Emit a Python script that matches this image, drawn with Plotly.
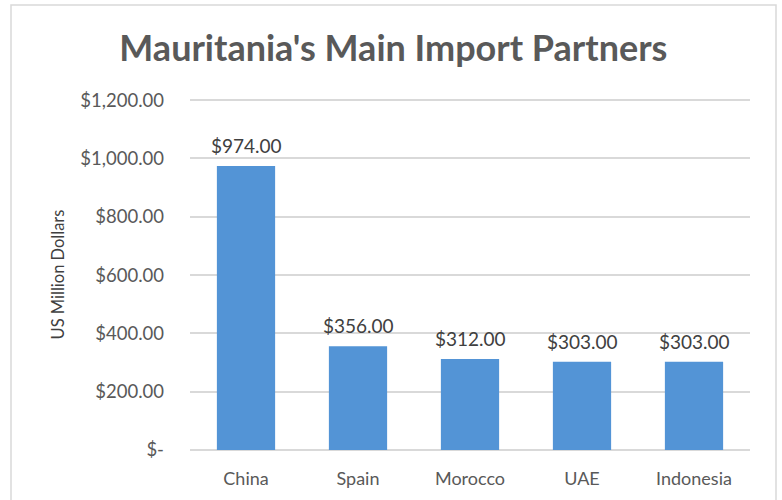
import plotly.graph_objects as go

countries = ["China", "Spain", "Morocco", "UAE", "Indonesia"]
imports = [974, 356, 312, 303, 303]
tick_vals = [0, 200, 400, 600, 800, 1000, 1200]
tick_text = ["$-", "$200.00", "$400.00", "$600.00", "$800.00", "$1,000.00", "$1,200.00"]

W, H = 782, 500
L, R, T, B = 190, 32, 99, 50
pw, ph = W - L - R, H - T - B
FONT = "Lato, Open Sans, sans-serif"

fig = go.Figure(go.Bar(
    x=countries, y=imports,
    marker=dict(color="#5394d6", line=dict(width=0)),
    width=0.52,
    hoverinfo="x+y",
))

for c, v in zip(countries, imports):
    fig.add_annotation(x=c, y=v, text=f"${v:,.2f}", showarrow=False,
                       yanchor="bottom", yshift=7,
                       font=dict(family=FONT, size=19, color="#404040"))

fig.update_layout(
    width=W, height=H,
    margin=dict(l=L, r=R, t=T, b=B),
    paper_bgcolor="white", plot_bgcolor="white",
    title=dict(text="<b>Mauritania's Main Import Partners</b>", x=0.503, xanchor="center",
               y=1 - 48 / H, yanchor="middle",
               font=dict(family=FONT, size=36, color="#595959")),
    showlegend=False,
    bargap=0.48,
    xaxis=dict(showgrid=False, showline=False, ticks="",
               tickfont=dict(family=FONT, size=18, color="#595959"),
               ticklabelstandoff=16),
    yaxis=dict(range=[0, 1204], tickvals=tick_vals, ticktext=tick_text,
               showgrid=True, gridcolor="#d9d9d9", gridwidth=1.5,
               zeroline=True, zerolinecolor="#d9d9d9", zerolinewidth=1.5,
               showline=False, ticks="",
               tickfont=dict(family=FONT, size=18.5, color="#595959"),
               ticklabelstandoff=25,
               title=dict(text="US Million Dollars", standoff=11,
                          font=dict(family=FONT, size=16.5, color="#404040"))),
    shapes=[dict(type="rect", xref="paper", yref="paper",
                 x0=(11 - L) / pw, x1=(776 - L) / pw,
                 y0=(H - B - 503) / ph, y1=(H - B - 5) / ph,
                 line=dict(color="#d9d9d9", width=1.5), fillcolor="rgba(0,0,0,0)", layer="below")],
)

fig.write_html("out.html")
